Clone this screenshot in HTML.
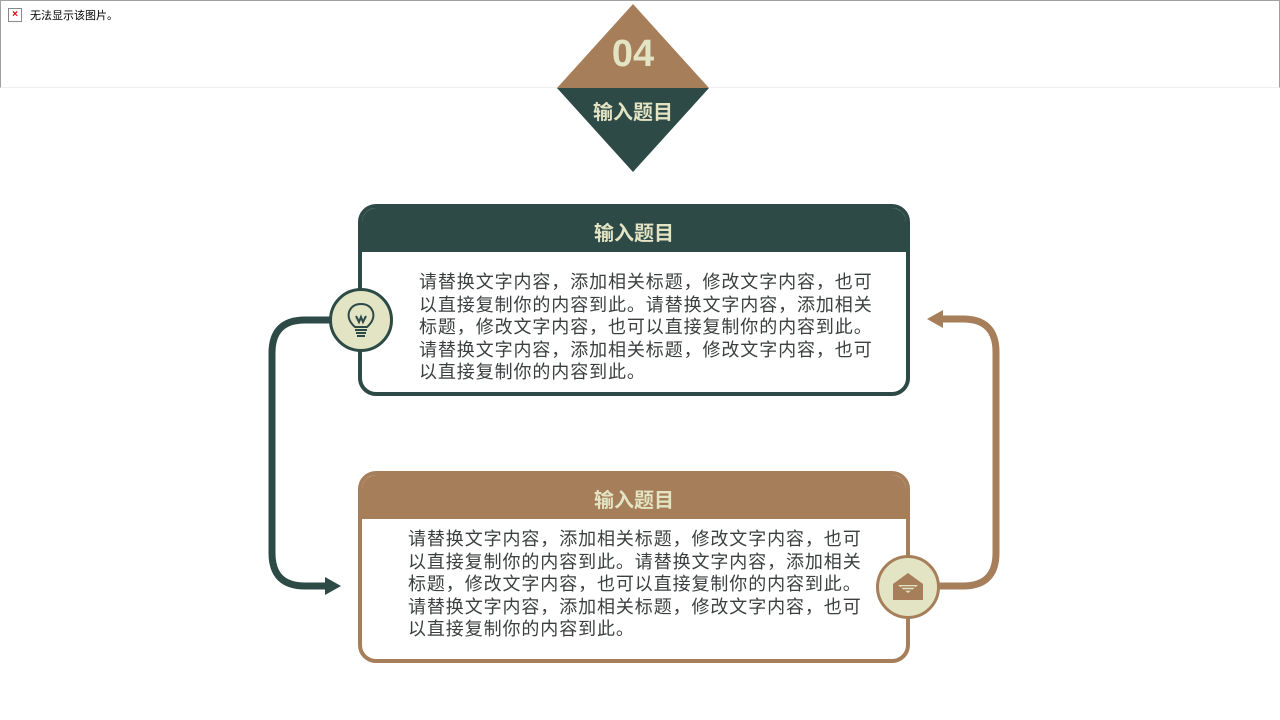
<!DOCTYPE html>
<html><head><meta charset="utf-8"><style>
body{margin:0;width:1280px;height:720px;background:#fff;position:relative;overflow:hidden;font-family:"Liberation Sans","Noto Sans CJK SC",sans-serif}
.top{position:absolute;left:0;top:0;width:1278px;height:86px;border:1px solid #a0a0a0;border-bottom-color:#eee;background:#fff}
.icon{position:absolute;left:7px;top:7px;width:12px;height:12px;border:1px solid #888;font-size:10px;color:#d00;line-height:12px;text-align:center;font-weight:bold}
.msg{position:absolute;left:29px;top:6px;font-size:11px;color:#000}
.card{position:absolute;left:358px;width:552px;height:192px;box-sizing:border-box;border:4px solid;border-radius:18px;background:#fff;overflow:hidden}
.hd{height:44px;color:#e3e4c3;font-weight:bold;font-size:20px;text-align:center;line-height:52px}
.tx{position:absolute;font-size:18px;letter-spacing:0.9px;line-height:22.5px;color:#3b3f3f;white-space:nowrap}
.circ{position:absolute;width:58px;height:58px;border-radius:50%;background:#e3e4c3;border:3px solid}
</style></head><body>
<div class="top"><div class="icon">×</div><div class="msg">无法显示该图片。</div></div>
<svg style="position:absolute;left:0;top:0" width="1280" height="720">
<polygon points="633,4 709,88 557,88" fill="#a67f5a"/>
<polygon points="557,88 709,88 633,172" fill="#2e4a47"/>
<text x="633" y="66" text-anchor="middle" font-size="38" font-weight="bold" fill="#e3e4c3" font-family="Liberation Sans">04</text>
<text x="633" y="119" text-anchor="middle" font-size="20" font-weight="bold" fill="#e3e4c3" font-family="Liberation Sans,Noto Sans CJK SC,sans-serif">输入题目</text>
<path d="M335,320 H305 Q272,320 272,353 V553 Q272,586 305,586 H326" fill="none" stroke="#2e4a47" stroke-width="7"/>
<polygon points="325,577 341,586 325,595" fill="#2e4a47"/>
<path d="M935,586 H963 Q996,586 996,553 V352 Q996,319 963,319 H942" fill="none" stroke="#a67f5a" stroke-width="7"/>
<polygon points="943,310 927,319 943,328" fill="#a67f5a"/>
</svg>
<div class="card" style="top:204px;border-color:#2e4a47"><div class="hd" style="background:#2e4a47">输入题目</div></div>
<div class="tx" style="left:419px;top:271px">请替换文字内容，添加相关标题，修改文字内容，也可<br>以直接复制你的内容到此。请替换文字内容，添加相关<br>标题，修改文字内容，也可以直接复制你的内容到此。<br>请替换文字内容，添加相关标题，修改文字内容，也可<br>以直接复制你的内容到此。</div>
<div class="card" style="top:471px;border-color:#a67f5a"><div class="hd" style="background:#a67f5a">输入题目</div></div>
<div class="tx" style="left:408px;top:528px">请替换文字内容，添加相关标题，修改文字内容，也可<br>以直接复制你的内容到此。请替换文字内容，添加相关<br>标题，修改文字内容，也可以直接复制你的内容到此。<br>请替换文字内容，添加相关标题，修改文字内容，也可<br>以直接复制你的内容到此。</div>
<div class="circ" style="left:329px;top:288px;border-color:#2e4a47">
<svg width="58" height="58"><path d="M23,36 Q15,29 17,21 Q20,13 29,13 Q38,13 41,21 Q43,29 35,36 Z" fill="none" stroke="#2e4a47" stroke-width="2"/><path d="M24,25 L27,31 L29,26 L31,31 L34,25" fill="none" stroke="#2e4a47" stroke-width="2"/><rect x="23" y="38" width="12" height="2" fill="#2e4a47"/><rect x="24" y="41" width="10" height="2" fill="#2e4a47"/><rect x="25" y="44" width="8" height="2" fill="#2e4a47"/></svg></div>
<div class="circ" style="left:876px;top:555px;border-color:#a67f5a">
<svg width="58" height="58"><path d="M14,26 L29,15 L44,26 V42 H14 Z" fill="#a67f5a"/><path d="M19,27 H39 L29,35 Z" fill="#e3e4c3"/><path d="M22,29 H36 M25,32 H33" stroke="#a67f5a" stroke-width="1.5"/></svg></div>
</body></html>
